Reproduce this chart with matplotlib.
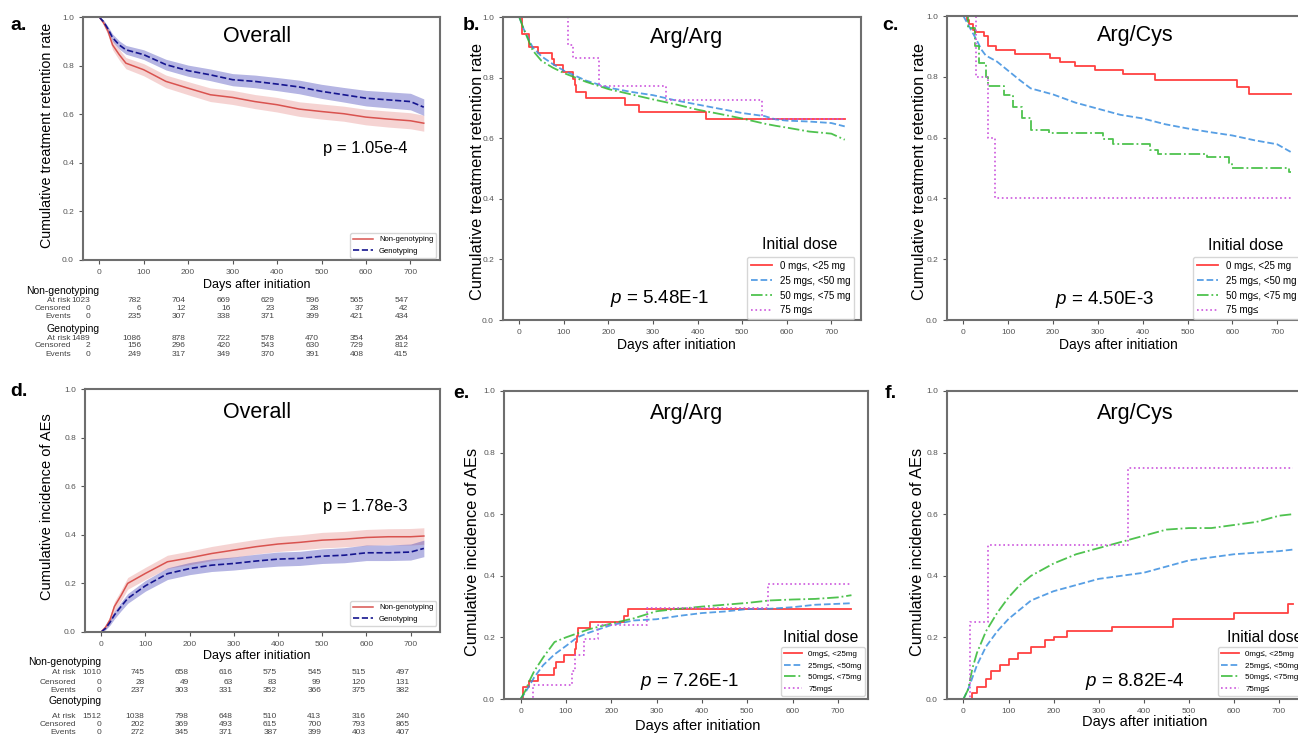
import matplotlib
matplotlib.use("Agg")
import matplotlib.pyplot as plt
import matplotlib.transforms as mtransforms

plt.rcParams['font.family'] = ['Liberation Sans', 'DejaVu Sans']
plt.rcParams['mathtext.fontset'] = 'custom'
plt.rcParams['mathtext.it'] = 'Liberation Sans:italic'
plt.rcParams['mathtext.rm'] = 'Liberation Sans'

# ---- data ----
# a. overall retention (Kaplan-Meier) with confidence bands
a_days = [0, 10, 20, 30, 45, 60, 100, 150, 200, 250, 300, 350, 400, 450, 500, 550, 600, 650, 700, 730]
a_nongeno = [1.0, .975, .94, .885, .845, .81, .783, .735, .707, .68, .669, .652, .639, .621, .611, .602, .588, .58, .573, .563]
a_nongeno_lo = [1.0, .965, .925, .865, .823, .787, .758, .709, .68, .652, .64, .623, .609, .591, .58, .571, .556, .547, .54, .53]
a_nongeno_hi = [1.0, .985, .955, .905, .867, .833, .808, .761, .734, .708, .698, .681, .669, .651, .642, .633, .62, .613, .606, .596]
a_geno = [1.0, .98, .95, .915, .885, .865, .845, .804, .779, .762, .742, .735, .724, .712, .694, .68, .666, .659, .652, .629]
a_geno_lo = [1.0, .973, .94, .9, .868, .847, .825, .782, .756, .738, .717, .709, .697, .684, .665, .65, .634, .626, .618, .595]
a_geno_hi = [1.0, .987, .96, .93, .902, .883, .865, .826, .802, .786, .767, .761, .751, .74, .723, .71, .698, .692, .686, .663]

table_ticks = [0, 100, 200, 300, 400, 500, 600, 700]
a_nongeno_atrisk = [1023, 782, 704, 669, 629, 596, 565, 547]
a_nongeno_censored = [0, 6, 12, 16, 23, 28, 37, 42]
a_nongeno_events = [0, 235, 307, 338, 371, 399, 421, 434]
a_geno_atrisk = [1489, 1086, 878, 722, 578, 470, 354, 264]
a_geno_censored = [2, 156, 296, 420, 543, 630, 729, 812]
a_geno_events = [0, 249, 317, 349, 370, 391, 408, 415]

# b. Arg/Arg retention by initial dose
b_dose0_days = [0, 6, 22, 41, 73, 79, 99, 120, 124, 127, 150, 237, 268, 418, 730]
b_dose0 = [1.0, .943, .901, .882, .863, .841, .819, .797, .775, .753, .733, .709, .686, .662, .662]
b_days = [0, 10, 20, 30, 50, 75, 100, 150, 200, 250, 300, 350, 400, 450, 500, 550, 575, 600, 650, 700, 730]
b_dose25 = [1.0, .96, .93, .90, .87, .845, .823, .79, .767, .753, .742, .725, .711, .697, .683, .673, .662, .658, .655, .65, .639]
b_dose50 = [1.0, .96, .925, .89, .855, .833, .815, .786, .762, .745, .728, .712, .694, .68, .665, .648, .641, .635, .622, .615, .595]
b_dose75_days = [0, 110, 120, 178, 328, 544, 730]
b_dose75 = [1.0, .909, .864, .773, .725, .662, .662]

# c. Arg/Cys retention by initial dose
c_dose0_days = [0, 7, 13, 21, 27, 47, 56, 73, 116, 194, 216, 248, 293, 357, 428, 610, 638, 730]
c_dose0 = [1.0, .988, .973, .955, .947, .933, .901, .887, .876, .863, .849, .836, .821, .808, .789, .767, .742, .742]
c_dose25_days = [0, 15, 30, 40, 50, 75, 100, 125, 150, 200, 250, 300, 350, 400, 450, 500, 550, 600, 650, 700, 730]
c_dose25 = [1.0, .96, .92, .89, .87, .85, .82, .79, .762, .742, .715, .695, .675, .663, .644, .63, .618, .607, .591, .578, .553]
c_dose50_days = [0, 10, 25, 35, 50, 55, 90, 110, 130, 150, 190, 312, 334, 416, 435, 543, 592, 599, 726, 730]
c_dose50 = [1.0, .96, .90, .845, .80, .77, .74, .70, .665, .624, .615, .597, .578, .559, .545, .537, .515, .50, .487, .487]
c_dose75_days = [0, 28, 56, 71, 730]
c_dose75 = [1.0, .8, .6, .4, .4]

# d. overall AE incidence with confidence bands
d_days = [0, 10, 20, 30, 45, 60, 100, 150, 200, 250, 300, 350, 400, 450, 500, 550, 600, 650, 700, 730]
d_nongeno = [0, .02, .05, .105, .15, .2, .241, .289, .305, .323, .337, .351, .362, .369, .378, .382, .389, .392, .392, .395]
d_nongeno_lo = [0, .012, .035, .085, .128, .176, .216, .262, .277, .294, .307, .321, .331, .338, .346, .350, .356, .359, .358, .361]
d_nongeno_hi = [0, .028, .065, .125, .172, .224, .266, .316, .333, .352, .367, .381, .393, .400, .410, .414, .422, .425, .426, .429]
d_geno = [0, .015, .04, .07, .105, .138, .19, .24, .261, .275, .282, .292, .30, .303, .312, .316, .326, .326, .329, .344]
d_geno_lo = [0, .009, .028, .054, .087, .118, .168, .216, .236, .249, .255, .264, .271, .274, .282, .285, .294, .294, .296, .310]
d_geno_hi = [0, .021, .052, .086, .123, .158, .212, .264, .286, .301, .309, .320, .329, .332, .342, .347, .358, .358, .362, .378]

d_nongeno_atrisk = [1010, 745, 658, 616, 575, 545, 515, 497]
d_nongeno_censored = [0, 28, 49, 63, 83, 99, 120, 131]
d_nongeno_events = [0, 237, 303, 331, 352, 366, 375, 382]
d_geno_atrisk = [1512, 1038, 798, 648, 510, 413, 316, 240]
d_geno_censored = [0, 202, 369, 493, 615, 700, 793, 865]
d_geno_events = [0, 272, 345, 371, 387, 399, 403, 407]

# e. Arg/Arg AE incidence by initial dose
e_dose0_days = [0, 5, 18, 39, 74, 79, 96, 120, 123, 125, 127, 153, 228, 238, 730]
e_dose0 = [0, .039, .057, .079, .10, .121, .142, .162, .184, .203, .229, .25, .27, .293, .293]
e_days = [0, 10, 20, 30, 50, 75, 100, 125, 150, 200, 250, 300, 350, 400, 450, 500, 550, 600, 650, 700, 730]
e_dose25 = [0, .02, .045, .07, .11, .145, .172, .2, .215, .24, .255, .259, .27, .279, .284, .292, .293, .298, .306, .309, .311]
e_dose50 = [0, .025, .06, .09, .135, .185, .2, .213, .226, .245, .262, .285, .293, .30, .306, .312, .32, .323, .325, .33, .337]
e_dose75_days = [0, 28, 113, 120, 141, 170, 280, 545, 730]
e_dose75 = [0, .047, .092, .142, .195, .24, .297, .375, .375]

# f. Arg/Cys AE incidence by initial dose
f_dose0_days = [0, 20, 30, 50, 60, 80, 100, 120, 150, 180, 200, 230, 330, 465, 600, 720, 730]
f_dose0 = [0, .02, .04, .065, .09, .11, .13, .15, .17, .19, .20, .22, .235, .26, .28, .31, .31]
f_days = [0, 10, 20, 30, 50, 75, 100, 125, 150, 200, 250, 300, 350, 400, 450, 500, 550, 600, 650, 700, 730]
f_dose25 = [0, .03, .07, .11, .17, .22, .26, .29, .32, .35, .37, .39, .40, .41, .43, .45, .46, .47, .475, .48, .485]
f_dose50 = [0, .03, .10, .15, .22, .28, .33, .37, .40, .44, .47, .49, .51, .53, .55, .555, .555, .565, .575, .595, .60]
f_dose75_days = [0, 15, 55, 365, 730]
f_dose75 = [0, .25, .5, .75, .75]

dose_labels_b = ['0 mg≤, <25 mg', '25 mg≤, <50 mg', '50 mg≤, <75 mg', '75 mg≤']
dose_labels_e = ['0mg≤, <25mg', '25mg≤, <50mg', '50mg≤, <75mg', '75mg≤']
group_labels = ['Non-genotyping', 'Genotyping']
row_labels = ['At risk', 'Censored', 'Events']

# ---- layout helpers (figure pixels, y from top) ----
W, H = 1298, 735
fig = plt.figure(figsize=(W / 100, H / 100), dpi=100)


def fx(x):
    return x / W


def fy(y):
    return 1 - y / H


def add_axes_px(left, top, right, bottom):
    ax = fig.add_axes([fx(left), fy(bottom), (right - left) / W, (bottom - top) / H])
    ax.set_xlim(-36.5, 766.5)
    ax.set_ylim(0, 1.0)
    ax.set_xticks(range(0, 701, 100))
    ax.set_yticks([0, 0.2, 0.4, 0.6, 0.8, 1.0])
    ax.tick_params(labelsize=6, colors='#555555', length=3, width=0.8)
    for s in ax.spines.values():
        s.set_color('#6e6e6e')
        s.set_linewidth(1.5)
    return ax


def label(x, y, s, size, **kw):
    fig.text(fx(x), fy(y), s, fontsize=size, va='center', **kw)


dose_colors = ['#ff2020', '#3a8ee0', '#30b830', '#cc55dd']
dose_styles = ['-', '--', '-.', ':']


def dose_legend(ax, labels, x, y, size):
    ax.legend(labels=labels, handles=ax.get_lines(), loc='upper left',
              bbox_to_anchor=(fx(x), fy(y)), bbox_transform=fig.transFigure,
              borderaxespad=0, fontsize=size, frameon=True, edgecolor='#cccccc',
              handlelength=2.2)


def group_legend(ax, x, y):
    ax.legend(loc='upper left', bbox_to_anchor=(fx(x), fy(y)),
              bbox_transform=fig.transFigure, borderaxespad=0, fontsize=5.5,
              edgecolor='#cccccc', handlelength=2.6)


def risk_table(ax, ys, tables, col_shift, first_shift, label_x):
    trans = mtransforms.blended_transform_factory(ax.transData, fig.transFigure)
    for g in range(2):
        fig.text(0, fy(ys[g][0]), group_labels[g], transform=trans, ha='right',
                 va='center', fontsize=7.5)
        for r in range(3):
            yy = fy(ys[g][r + 1])
            fig.text(label_x, yy, row_labels[r], transform=trans, ha='right',
                     va='center', fontsize=6, color='#444444')
            for i, t in enumerate(table_ticks):
                xx = t + (first_shift if i == 0 else col_shift)
                fig.text(xx, yy, str(tables[g][r][i]), transform=trans, ha='right',
                         va='center', fontsize=6, color='#444444')


# ---- a ----
ax = add_axes_px(83, 17, 440, 260)
ax.fill_between(a_days, a_nongeno_lo, a_nongeno_hi, color='#d9534f', alpha=0.25, lw=0)
ax.fill_between(a_days, a_geno_lo, a_geno_hi, color='#2b2bb0', alpha=0.35, lw=0)
ax.plot(a_days, a_nongeno, color='#d9534f', lw=1.1, label='Non-genotyping')
ax.plot(a_days, a_geno, color='#15158f', lw=1.2, ls='--', label='Genotyping')
group_legend(ax, 350, 233)
label(10, 25, 'a.', 14, weight='bold')
label(47, 135, 'Cumulative treatment retention rate', 10.3, rotation=90, ha='center')
label(257, 36, 'Overall', 15.5, ha='center')
label(365, 148, 'p = 1.05e-4', 12, ha='center')
label(257, 285, 'Days after initiation', 9, ha='center')
risk_table(ax, [[291, 300, 308, 316], [329, 338, 346, 354]],
           [[a_nongeno_atrisk, a_nongeno_censored, a_nongeno_events],
            [a_geno_atrisk, a_geno_censored, a_geno_events]], -5, -20, -64)

# ---- b ----
ax = add_axes_px(503, 17, 861, 320)
ax.step(b_dose0_days, b_dose0, where='post', color=dose_colors[0], lw=1.3, alpha=0.85)
ax.plot(b_days, b_dose25, color=dose_colors[1], ls=dose_styles[1], lw=1.3, alpha=0.85)
ax.plot(b_days, b_dose50, color=dose_colors[2], ls=dose_styles[2], lw=1.3, alpha=0.85)
ax.step(b_dose75_days, b_dose75, where='post', color=dose_colors[3], ls=dose_styles[3], lw=1.2)
dose_legend(ax, dose_labels_b, 747, 257, 7)
label(463, 25, 'b.', 14, weight='bold')
label(477, 171, 'Cumulative treatment retention rate', 11.8, rotation=90, ha='center')
label(687, 37, 'Arg/Arg', 15.5, ha='center')
label(676, 345, 'Days after initiation', 10, ha='center')
label(660, 298, '$p$ = 5.48E-1', 13.5, ha='center')
label(800, 245, 'Initial dose', 11.3, ha='center')

# ---- c ----
ax = add_axes_px(947, 16, 1307, 320)
ax.step(c_dose0_days, c_dose0, where='post', color=dose_colors[0], lw=1.3, alpha=0.85)
ax.plot(c_dose25_days, c_dose25, color=dose_colors[1], ls=dose_styles[1], lw=1.3, alpha=0.85)
ax.step(c_dose50_days, c_dose50, where='post', color=dose_colors[2], ls=dose_styles[2], lw=1.3, alpha=0.85)
ax.step(c_dose75_days, c_dose75, where='post', color=dose_colors[3], ls=dose_styles[3], lw=1.2)
dose_legend(ax, dose_labels_b, 1193, 257, 7)
label(882, 25, 'c.', 14, weight='bold')
label(919, 171, 'Cumulative treatment retention rate', 11.8, rotation=90, ha='center')
label(1135, 36, 'Arg/Cys', 15.5, ha='center')
label(1118, 345, 'Days after initiation', 10, ha='center')
label(1105, 300, '$p$ = 4.50E-3', 13.5, ha='center')
label(1246, 246, 'Initial dose', 11.3, ha='center')

# ---- d ----
ax = add_axes_px(85, 389, 440, 632)
ax.fill_between(d_days, d_nongeno_lo, d_nongeno_hi, color='#d9534f', alpha=0.25, lw=0)
ax.fill_between(d_days, d_geno_lo, d_geno_hi, color='#2b2bb0', alpha=0.35, lw=0)
ax.plot(d_days, d_nongeno, color='#d9534f', lw=1.1, label='Non-genotyping')
ax.plot(d_days, d_geno, color='#15158f', lw=1.2, ls='--', label='Genotyping')
group_legend(ax, 350, 601)
label(10, 392, 'd.', 14, weight='bold')
label(47, 507, 'Cumulative incidence of AEs', 10.5, rotation=90, ha='center')
label(257, 413, 'Overall', 15.5, ha='center')
label(365, 507, 'p = 1.78e-3', 12, ha='center')
label(257, 656, 'Days after initiation', 9, ha='center')
risk_table(ax, [[662, 673, 682, 690], [701, 716, 724, 732]],
           [[d_nongeno_atrisk, d_nongeno_censored, d_nongeno_events],
            [d_geno_atrisk, d_geno_censored, d_geno_events]], -2, 0, -57)

# ---- e ----
ax = add_axes_px(504, 391, 868, 699)
ax.step(e_dose0_days, e_dose0, where='post', color=dose_colors[0], lw=1.3, alpha=0.85)
ax.plot(e_days, e_dose25, color=dose_colors[1], ls=dose_styles[1], lw=1.3, alpha=0.85)
ax.plot(e_days, e_dose50, color=dose_colors[2], ls=dose_styles[2], lw=1.3, alpha=0.85)
ax.step(e_dose75_days, e_dose75, where='post', color=dose_colors[3], ls=dose_styles[3], lw=1.2)
dose_legend(ax, dose_labels_e, 781, 647, 5.8)
label(453, 393, 'e.', 14, weight='bold')
label(473, 552, 'Cumulative incidence of AEs', 11.8, rotation=90, ha='center')
label(687, 413, 'Arg/Arg', 15.5, ha='center')
label(698, 726, 'Days after initiation', 10.5, ha='center')
label(690, 681, '$p$ = 7.26E-1', 13.5, ha='center')
label(821, 637, 'Initial dose', 11.3, ha='center')

# ---- f ----
ax = add_axes_px(947, 391, 1309, 699)
ax.step(f_dose0_days, f_dose0, where='post', color=dose_colors[0], lw=1.3, alpha=0.85)
ax.plot(f_days, f_dose25, color=dose_colors[1], ls=dose_styles[1], lw=1.3, alpha=0.85)
ax.plot(f_days, f_dose50, color=dose_colors[2], ls=dose_styles[2], lw=1.3, alpha=0.85)
ax.step(f_dose75_days, f_dose75, where='post', color=dose_colors[3], ls=dose_styles[3], lw=1.2)
dose_legend(ax, dose_labels_e, 1218, 647, 5.8)
label(885, 393, 'f.', 14, weight='bold')
label(917, 552, 'Cumulative incidence of AEs', 11.8, rotation=90, ha='center')
label(1135, 413, 'Arg/Cys', 15.5, ha='center')
label(1145, 722, 'Days after initiation', 10.5, ha='center')
label(1135, 682, '$p$ = 8.82E-4', 13.5, ha='center')
label(1265, 637, 'Initial dose', 11.3, ha='center')

fig.savefig('out.png', dpi=100)
